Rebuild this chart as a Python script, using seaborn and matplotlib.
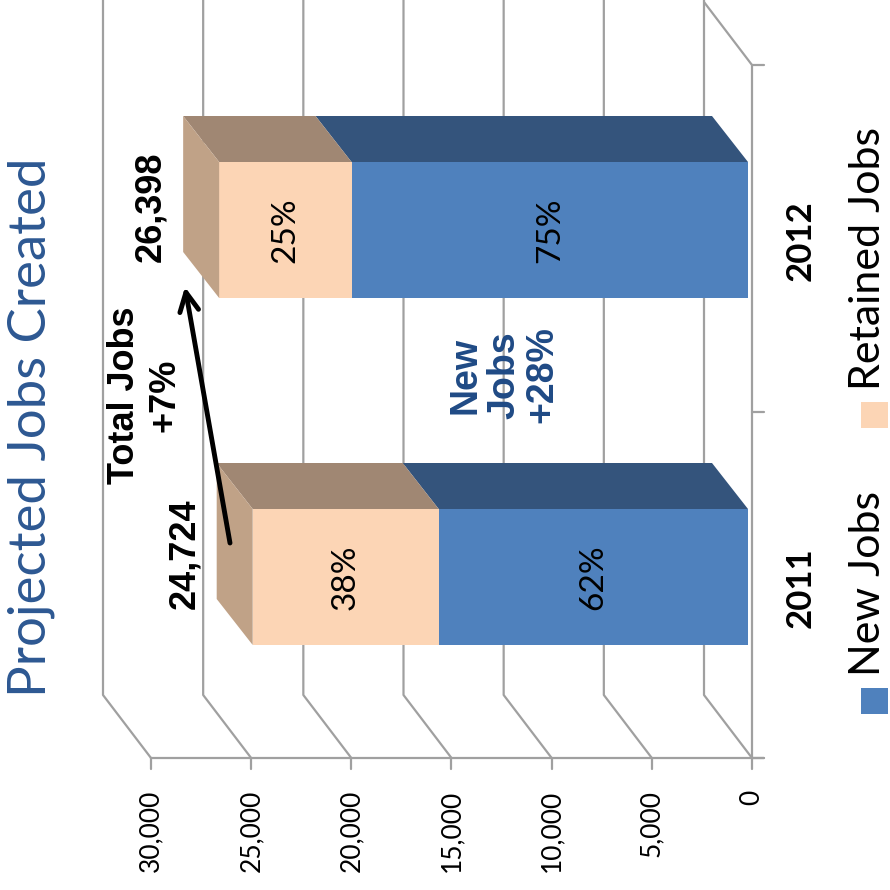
import matplotlib
matplotlib.use("Agg")
import matplotlib.pyplot as plt
from matplotlib.patches import Polygon, Rectangle
import numpy as np
import pandas as pd
import seaborn as sns

# -------- data --------
years = ["2012", "2011"]
total_jobs = [26398, 24724]
new_jobs = [19790, 15440]
retained_jobs = [t - n for t, n in zip(total_jobs, new_jobs)]
new_pct = ["75%", "62%"]
retained_pct = ["25%", "38%"]
total_labels = ["26,398", "24,724"]
value_ticks = [0, 5000, 10000, 15000, 20000, 25000, 30000]
series_names = ["New Jobs", "Retained Jobs"]

df = pd.DataFrame({"year": years, "total": total_jobs, "new": new_jobs,
                   "retained": retained_jobs})

# -------- colours / fonts --------
BLUE, BLUE_SIDE = "#4F81BD", "#34547C"
PEACH, PEACH_SIDE, PEACH_TOP = "#FCD5B5", "#A08773", "#C0A287"
GRID = "#A0A0A0"
TITLE_C = "#2D5892"
NOTE_C = "#1F4A85"
NARROW = ["Liberation Sans Narrow", "Lato", "DejaVu Sans"]
ARIAL = ["Liberation Sans", "DejaVu Sans"]

sns.set_style("white")
plt.rcParams["font.family"] = NARROW

# whole chart is drawn rotated 90 deg: values run right->left, categories top->bottom
W = 890
S = 601 / 30000          # px per job
def px2v(px):
    return (748 - px) / S
def px2c(py):
    return (py - 230) / 347

BAR_W = 136 / 347
DEPTH_V, DEPTH_C = 36 / S, 46 / 347          # bar depth
WALL_V, WALL_C = 48 / S, 63 / 347            # floor depth
AX0_V = px2v(752)                            # front edge of floor
AX0_C = px2c(758)
TOP_C = px2c(2)

fig = plt.figure(figsize=(8.9, 8.9), dpi=100)
ax = fig.add_axes([0, 0, 1, 1])

# -------- walls / grid --------
for t in value_ticks:
    xf = t + AX0_V
    ax.plot([xf, xf + WALL_V, xf + WALL_V], [AX0_C, AX0_C - WALL_C, px2c(-2)],
            color=GRID, lw=1.6, zorder=1, solid_capstyle="butt")
    ax.plot([xf, xf], [AX0_C, px2c(769)], color=GRID, lw=1.6, zorder=1)
# floor far edge + category axis
ax.plot([AX0_V + WALL_V, AX0_V, AX0_V], [TOP_C, TOP_C + WALL_C, AX0_C],
        color=GRID, lw=1.6, zorder=1)
ax.plot([value_ticks[-1] + AX0_V, px2v(764)], [AX0_C, AX0_C], color=GRID, lw=1.6, zorder=1)
for cy in [TOP_C + WALL_C, (TOP_C + WALL_C + AX0_C) / 2, AX0_C]:
    ax.plot([AX0_V, px2v(764)], [cy, cy], color=GRID, lw=1.6, zorder=1)

# -------- bars (stacked: total behind, new in front) --------
sns.barplot(data=df, y="year", x="total", order=years, orient="h", color=PEACH,
            saturation=1, width=BAR_W, ax=ax, zorder=3, linewidth=0)
sns.barplot(data=df, y="year", x="new", order=years, orient="h", color=BLUE,
            saturation=1, width=BAR_W, ax=ax, zorder=3, linewidth=0)

for i, (tot, new) in enumerate(zip(total_jobs, new_jobs)):
    top, bot = i - BAR_W / 2, i + BAR_W / 2
    for a, b, col in [(0, new, BLUE_SIDE), (new, tot, PEACH_SIDE)]:
        ax.add_patch(Polygon([(a, top), (b, top), (b + DEPTH_V, top - DEPTH_C),
                              (a + DEPTH_V, top - DEPTH_C)], closed=True,
                             facecolor=col, edgecolor="none", zorder=3))
    ax.add_patch(Polygon([(tot, top), (tot, bot), (tot + DEPTH_V, bot - DEPTH_C),
                          (tot + DEPTH_V, top - DEPTH_C)], closed=True,
                         facecolor=PEACH_TOP, edgecolor="none", zorder=3))
    # segment labels
    ax.text(new / 2, i, new_pct[i], rotation=90, ha="center", va="center",
            fontsize=24, color="black", zorder=5)
    ax.text((new + tot) / 2, i, retained_pct[i], rotation=90, ha="center",
            va="center", fontsize=24, color="black", zorder=5)
    # totals
    ax.text(tot + 68 / S, i - DEPTH_C / 2, total_labels[i], rotation=90,
            ha="center", va="center", fontsize=26, fontweight="bold",
            family=ARIAL, color="black", zorder=5)
    # category labels (centred on the category band of the floor)
    ax.text(px2v(801), i + 0.03, years[i], rotation=90, ha="center", va="center",
            fontsize=25, fontweight="bold", color="black")

# value tick labels
for t in value_ticks:
    ax.text(t + AX0_V, px2c(790), f"{t:,}", rotation=90, ha="center", va="top",
            fontsize=19, color="black")

# -------- annotations --------
ax.annotate("", xy=(px2v(185), px2c(287)), xytext=(px2v(230), px2c(543)),
            arrowprops=dict(arrowstyle="->", lw=3.5, color="black",
                            mutation_scale=34, shrinkA=0, shrinkB=0), zorder=6)
ax.text(px2v(145), px2c(395), "Total Jobs\n+7%", rotation=90, ha="center",
        va="center", multialignment="center", fontsize=26, fontweight="bold",
        family=ARIAL, color="black", linespacing=1.2)
ax.text(px2v(504), px2c(375), "New\nJobs\n+28%", rotation=90, ha="center",
        va="center", multialignment="center", fontsize=27, fontweight="bold",
        family=ARIAL, color=NOTE_C, linespacing=1.1)

# -------- title + legend (figure pixels) --------
fig.text(31 / W, 1 - 427 / W, "Projected Jobs Created", rotation=90,
         ha="center", va="center", fontsize=38, color=TITLE_C)

leg_cols = [BLUE, PEACH]
leg_sq_y = [714, 428]
leg_txt_y = [676, 390]
for name, col, sy, ty in zip(series_names, leg_cols, leg_sq_y, leg_txt_y):
    fig.patches.append(Rectangle((861 / W, 1 - sy / W), 27 / W, 26 / W,
                                 transform=fig.transFigure, facecolor=col,
                                 edgecolor="none"))
    fig.text(868 / W, 1 - ty / W, name, rotation=90, ha="center", va="bottom",
             fontsize=31, color="black")

ax.set_xlim(px2v(0), px2v(W))
ax.set_ylim(px2c(W), px2c(0))
ax.set_axis_off()

fig.savefig("out.png", dpi=100)
